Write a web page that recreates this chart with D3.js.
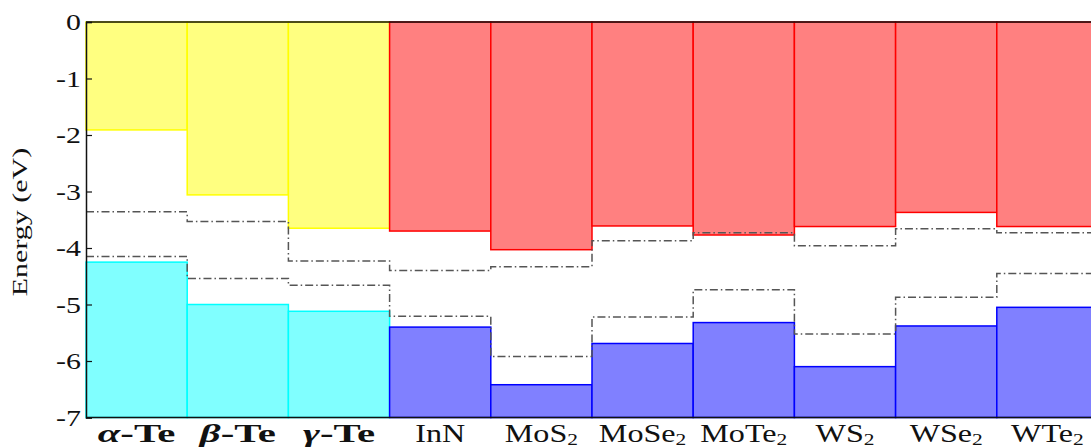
<!DOCTYPE html>
<html>
<head>
<meta charset="utf-8">
<script src="https://cdn.jsdelivr.net/npm/d3@7"></script>
<style>
  html, body { margin: 0; padding: 0; background: #fff; }
  svg { display: block; }
  text { font-family: "Liberation Serif", "Times New Roman", serif; fill: #111; }
</style>
</head>
<body>
<svg id="chart" width="1091" height="448"></svg>
<script>
// Materials along the x axis (the first three are tellurium phases)
const categories = ["α-Te", "β-Te", "γ-Te", "InN", "MoS2", "MoSe2", "MoTe2", "WS2", "WSe2", "WTe2"];
const isTe = [true, true, true, false, false, false, false, false, false, false];
// Conduction band minimum (eV)
const cbm = [-1.91, -3.06, -3.65, -3.70, -4.03, -3.61, -3.77, -3.62, -3.37, -3.62];
// Valence band maximum (eV)
const vbm = [-4.25, -5.00, -5.12, -5.40, -6.42, -5.69, -5.32, -6.10, -5.38, -5.05];
// Reference levels drawn as dash-dot steps
const upperRef = [-3.36, -3.53, -4.23, -4.40, -4.33, -3.87, -3.73, -3.96, -3.66, -3.73];
const lowerRef = [-4.15, -4.54, -4.66, -5.21, -5.92, -5.22, -4.74, -5.52, -4.87, -4.45];
const yTicks = [0, -1, -2, -3, -4, -5, -6, -7];

const svg = d3.select("#chart");
const plotLeft = 86, plotRight = 1098, plotTop = 22, plotBottom = 417.5;

const x = d3.scaleBand().domain(categories).range([plotLeft, plotRight]).paddingInner(0).paddingOuter(0);
const y = d3.scaleLinear().domain([0, -7]).range([plotTop, plotBottom]);

const rows = categories.map((c, i) => ({ c, te: isTe[i], cbm: cbm[i], vbm: vbm[i] }));

// Conduction band bars: from 0 down to CBM
svg.append("g").selectAll("rect").data(rows).join("rect")
  .attr("x", d => x(d.c))
  .attr("y", y(0))
  .attr("width", x.bandwidth())
  .attr("height", d => y(d.cbm) - y(0))
  .attr("fill", d => d.te ? "#ffff80" : "#ff8080")
  .attr("stroke", d => d.te ? "#ffff00" : "#ff0000")
  .attr("stroke-width", 1.5);

// Valence band bars: from VBM down to the bottom of the axis
svg.append("g").selectAll("rect").data(rows).join("rect")
  .attr("x", d => x(d.c))
  .attr("y", d => y(d.vbm))
  .attr("width", x.bandwidth())
  .attr("height", d => y(-7) - y(d.vbm))
  .attr("fill", d => d.te ? "#80ffff" : "#8080ff")
  .attr("stroke", d => d.te ? "#00ffff" : "#0000ff")
  .attr("stroke-width", 1.5);

// Dash-dot reference steps
const stepLine = d3.line().x(p => p[0]).y(p => y(p[1]));
function steps(vals) {
  const pts = [];
  categories.forEach((c, i) => {
    pts.push([x(c), vals[i]]);
    pts.push([x(c) + x.bandwidth(), vals[i]]);
  });
  return pts;
}
[upperRef, lowerRef].forEach(vals => {
  svg.append("path")
    .attr("d", stepLine(steps(vals)))
    .attr("fill", "none")
    .attr("stroke", "#555")
    .attr("stroke-width", 1.5)
    .attr("stroke-dasharray", "8,3,1.5,3");
});

// Frame lines
svg.append("line").attr("x1", plotLeft).attr("x2", 1091).attr("y1", plotTop).attr("y2", plotTop)
  .attr("stroke", "#111").attr("stroke-width", 1.5);
svg.append("line").attr("x1", plotLeft).attr("x2", 1091).attr("y1", plotBottom).attr("y2", plotBottom)
  .attr("stroke", "#111").attr("stroke-width", 1.5);

// Y axis with inward ticks
const yAxis = d3.axisLeft(y).tickValues(yTicks).tickSize(-6).tickPadding(0).tickFormat(d3.format("d"));
const ya = svg.append("g").attr("transform", `translate(${plotLeft},0)`).call(yAxis)
  .attr("font-family", "Liberation Serif").attr("font-size", 23);
ya.select(".domain").attr("stroke", "#111").attr("stroke-width", 1.5);
ya.selectAll(".tick line").attr("stroke", "#111").attr("stroke-width", 1.2);
ya.selectAll(".tick text")
  .attr("x", null).attr("dy", null)
  .attr("text-anchor", "end")
  .attr("dominant-baseline", "central")
  .attr("transform", "translate(-5,0) scale(1.3,1)")
  .text(d => d === 0 ? "0" : "-" + Math.abs(d))
  .attr("fill", "#111");

// Y axis title
svg.append("text")
  .attr("transform", "translate(27,222) rotate(-90) scale(1.5,1)")
  .attr("text-anchor", "middle")
  .attr("font-size", 20)
  .text("Energy (eV)");

// X labels
const xl = svg.append("g");
rows.forEach(d => {
  const t = xl.append("text")
    .attr("transform", `translate(${x(d.c) + x.bandwidth() / 2},442) scale(${d.te ? 1.6 : 1.26},1)`)
    .attr("text-anchor", "middle")
    .attr("font-size", 25.5);
  if (d.te) {
    const [greek, rest] = d.c.split("-");
    t.attr("font-weight", "bold");
    t.append("tspan").attr("font-style", "italic").text(greek);
    t.append("tspan").text("-" + rest);
  } else {
    const m = d.c.match(/^(.*?)(\d*)$/);
    t.append("tspan").text(m[1]);
    if (m[2]) {
      t.append("tspan").attr("font-size", 17).attr("dy", 3).text(m[2]);
    }
  }
});
</script>
</body>
</html>
